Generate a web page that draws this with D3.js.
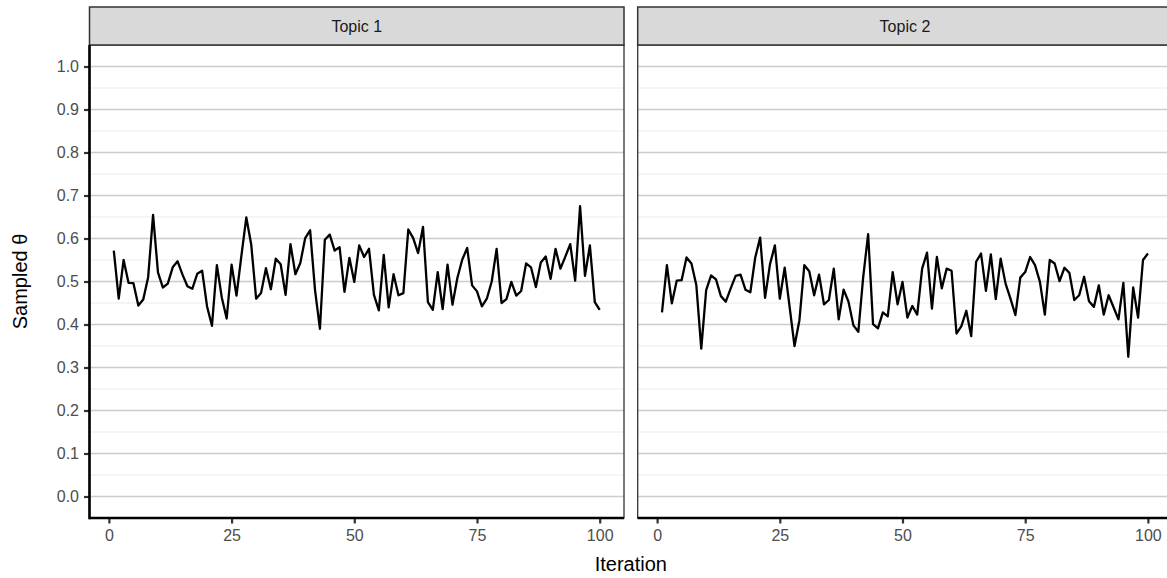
<!DOCTYPE html>
<html>
<head>
<meta charset="utf-8">
<script src="https://cdn.jsdelivr.net/npm/d3@7"></script>
<style>
  html, body { margin: 0; padding: 0; background: #fff; }
  svg { display: block; font-family: "Liberation Sans", Arial, Helvetica, sans-serif; }
</style>
</head>
<body>
<svg id="chart" width="1167" height="578"></svg>
<script>
const facets = ["Topic 1", "Topic 2"];
const iterations = d3.range(1, 101);
const topic1 = [
  0.572,0.46,0.55,0.497,0.496,0.444,0.458,0.51,0.655,0.521,
  0.486,0.495,0.533,0.547,0.516,0.489,0.483,0.518,0.525,0.442,
  0.397,0.538,0.463,0.414,0.539,0.467,0.56,0.649,0.586,0.46,
  0.473,0.531,0.482,0.553,0.54,0.469,0.587,0.517,0.543,0.601,
  0.619,0.48,0.39,0.597,0.609,0.572,0.58,0.476,0.555,0.499,
  0.584,0.557,0.576,0.469,0.433,0.562,0.44,0.517,0.468,0.473,
  0.621,0.601,0.566,0.627,0.452,0.434,0.522,0.436,0.539,0.446,
  0.508,0.551,0.578,0.491,0.477,0.442,0.46,0.5,0.576,0.45,
  0.459,0.499,0.467,0.478,0.542,0.533,0.487,0.544,0.558,0.506,
  0.576,0.53,0.558,0.587,0.502,0.675,0.513,0.584,0.452,0.434
];
const topic2 = [
  0.428,0.538,0.449,0.502,0.503,0.556,0.542,0.491,0.344,0.48,
  0.514,0.505,0.466,0.453,0.484,0.513,0.516,0.481,0.475,0.556,
  0.602,0.462,0.54,0.584,0.46,0.532,0.441,0.35,0.41,0.538,
  0.524,0.468,0.516,0.447,0.457,0.53,0.412,0.481,0.453,0.398,
  0.383,0.511,0.61,0.401,0.391,0.428,0.419,0.522,0.447,0.499,
  0.416,0.443,0.423,0.53,0.567,0.437,0.557,0.484,0.53,0.525,
  0.379,0.396,0.432,0.373,0.546,0.565,0.478,0.563,0.459,0.553,
  0.495,0.46,0.422,0.509,0.522,0.557,0.538,0.499,0.423,0.55,
  0.542,0.501,0.532,0.52,0.457,0.468,0.511,0.454,0.441,0.491,
  0.423,0.468,0.44,0.412,0.497,0.325,0.486,0.416,0.55,0.565
];
const series = [topic1, topic2];
const yTicks = [0,0.1,0.2,0.3,0.4,0.5,0.6,0.7,0.8,0.9,1.0];
const yMinor = [0.05,0.15,0.25,0.35,0.45,0.55,0.65,0.75,0.85,0.95];
const xTicks = [0,25,50,75,100];
const xLabel = "Iteration";
const yLabel = "Sampled θ";

const svg = d3.select("#chart");
const panelTop = 45, panelBottom = 518, stripTop = 7;
const panelW = 534.5;
const panelLefts = [89.5, 637.7];

const y = d3.scaleLinear().domain([-0.05, 1.05]).range([panelBottom, panelTop]);

facets.forEach((name, k) => {
  const left = panelLefts[k], right = left + panelW;
  const x = d3.scaleLinear().domain([-3.95, 104.95]).range([left, right]);
  const g = svg.append("g");

  // panel background
  g.append("rect").attr("x", left).attr("y", panelTop).attr("width", panelW)
    .attr("height", panelBottom - panelTop).attr("fill", "#fff");

  // minor grid
  g.selectAll(".minor").data(yMinor).enter().append("line")
    .attr("x1", left).attr("x2", right)
    .attr("y1", d => y(d)).attr("y2", d => y(d))
    .attr("stroke", "#ebebeb").attr("stroke-width", 1.1);
  // major grid
  g.selectAll(".major").data(yTicks).enter().append("line")
    .attr("x1", left).attr("x2", right)
    .attr("y1", d => y(d)).attr("y2", d => y(d))
    .attr("stroke", "#cccccc").attr("stroke-width", 1.6);

  // data line
  const line = d3.line().x((d, i) => x(iterations[i])).y(d => y(d));
  g.append("path").datum(series[k]).attr("d", line)
    .attr("fill", "none").attr("stroke", "#000").attr("stroke-width", 2.3)
    .attr("stroke-linejoin", "round");

  // panel border
  g.append("rect").attr("x", left).attr("y", panelTop).attr("width", panelW)
    .attr("height", panelBottom - panelTop).attr("fill", "none")
    .attr("stroke", "#333333").attr("stroke-width", 1.3);

  // strip
  g.append("rect").attr("x", left).attr("y", stripTop).attr("width", panelW)
    .attr("height", panelTop - stripTop).attr("fill", "#d9d9d9")
    .attr("stroke", "#333333").attr("stroke-width", 1.5);
  g.append("text").attr("x", (left + right) / 2).attr("y", (stripTop + panelTop) / 2)
    .attr("text-anchor", "middle").attr("dominant-baseline", "central")
    .attr("font-size", 16).attr("fill", "#1a1a1a").text(name);

  // x axis
  const xa = g.append("g").attr("transform", `translate(0,${panelBottom})`)
    .call(d3.axisBottom(x).tickValues(xTicks).tickSize(5.5).tickPadding(6).tickFormat(d3.format("d")));
  xa.select(".domain").remove();
  xa.selectAll(".tick line").attr("stroke", "#333333").attr("stroke-width", 2.2);
  xa.selectAll(".tick text").attr("font-size", 16).attr("fill", "#4d4d4d")
    .attr("font-family", "Liberation Sans, Arial, sans-serif");
  g.append("line").attr("x1", left).attr("x2", right)
    .attr("y1", panelBottom).attr("y2", panelBottom)
    .attr("stroke", "#000").attr("stroke-width", 2.6);

  if (k === 0) {
    const ya = g.append("g").attr("transform", `translate(${left},0)`)
      .call(d3.axisLeft(y).tickValues(yTicks).tickSize(5.5).tickPadding(5).tickFormat(d3.format(".1f")));
    ya.select(".domain").remove();
    ya.selectAll(".tick line").attr("stroke", "#333333").attr("stroke-width", 2.2);
    ya.selectAll(".tick text").attr("font-size", 16).attr("fill", "#4d4d4d")
      .attr("font-family", "Liberation Sans, Arial, sans-serif");
    g.append("line").attr("x1", left).attr("x2", left)
      .attr("y1", panelTop).attr("y2", panelBottom + 1.3)
      .attr("stroke", "#000").attr("stroke-width", 2.6);
  }
});

// axis titles
svg.append("text").attr("x", (panelLefts[0] + panelLefts[1] + panelW) / 2).attr("y", 571)
  .attr("text-anchor", "middle").attr("font-size", 20).attr("fill", "#000").text(xLabel);
svg.append("text").attr("transform", `translate(27,${(panelTop + panelBottom) / 2}) rotate(-90)`)
  .attr("text-anchor", "middle").attr("font-size", 20).attr("fill", "#000").text(yLabel);
</script>
</body>
</html>
